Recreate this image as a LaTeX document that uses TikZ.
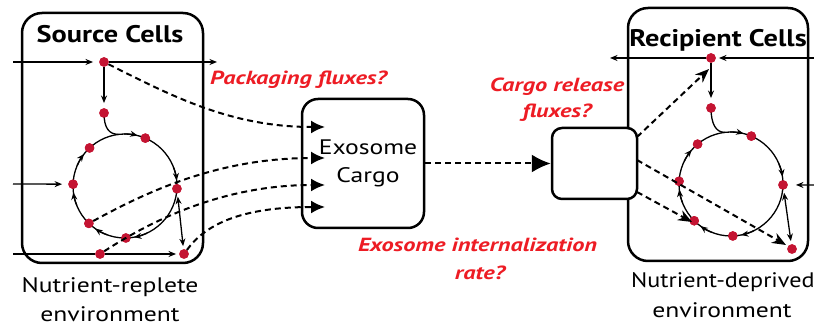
\documentclass[tikz,border=0pt]{standalone}
\usepackage{fontspec}
\setmainfont[FakeStretch=1.22]{PT Sans}
\newfontfamily\titlefont[FakeStretch=1.18]{PT Sans}
\newfontfamily\labfont[FakeStretch=1.28]{PT Sans}
\newfontfamily\ndfont[FakeStretch=1.15]{PT Sans}
\usetikzlibrary{arrows.meta,calc}
\definecolor{dotred}{RGB}{196,20,50}
\definecolor{labred}{RGB}{237,28,36}
\begin{document}
\begin{tikzpicture}[x=1pt,y=1pt,
  cellbox/.style={draw, line width=2.5pt, rounded corners=20pt},
  dot/.style={circle, fill=dotred, inner sep=0pt, minimum size=9.5pt},
  thinline/.style={line width=1.3pt},
  flow/.style={line width=1.3pt, -{Stealth[length=7.5pt,width=6pt]}},
  dflow/.style={line width=1.3pt, {Stealth[length=7.5pt,width=6pt]}-{Stealth[length=7.5pt,width=6pt]}},
  dashline/.style={line width=2pt, dash pattern=on 6pt off 4pt},
  bigtip/.style={-{Latex[length=14pt,width=13pt]}},
  smalltip/.style={-{Stealth[length=14pt,width=11pt,inset=4.5pt]}},
  title/.style={font=\titlefont\fontsize{24}{24}\selectfont\bfseries, anchor=base},
  lab/.style={text=labred, font=\labfont\fontsize{19}{19}\selectfont\bfseries\itshape, anchor=base},
  env/.style={font=\fontsize{21}{21}\selectfont, anchor=base},
]
\useasboundingbox (0,0) rectangle (814,-328);

% boxes
\draw[cellbox] (22,-13) rectangle (203,-263);
\draw[cellbox] (628,-8) rectangle (808,-261);
\node[draw, line width=2.5pt, rounded corners=16pt, minimum width=122pt, minimum height=129pt, inner sep=0pt] (exo) at (363,-163.5) {};
\node[draw, fill=white, line width=2.5pt, rounded corners=10pt, minimum width=85pt, minimum height=71pt, inner sep=0pt] (small) at (594.5,-163.5) {};

% centres and coordinates
\coordinate (S) at (125,-186);
\coordinate (R) at (731,-184);
\coordinate (sj) at ($(S)+(97:52)$);
\coordinate (rj) at ($(R)+(97:52)$);
\coordinate (sL1) at (13,-62);
\coordinate (sR1) at (217,-62);
\coordinate (sL2) at (13,-184);
\coordinate (sL3) at (13,-254);
\coordinate (rR1) at (814,-58);
\coordinate (rL1) at (610,-58);
\coordinate (rR2) at (814,-185);
\coordinate (e1) at (325,-127);
\coordinate (e2) at (325,-158);
\coordinate (e3) at (325,-185);
\coordinate (e4) at (325,-207);
\coordinate (sm1) at (637,-137);
\coordinate (sm2) at (637,-160);
\coordinate (sm3) at (637,-192);
\coordinate (t1) at (709,-69);
\coordinate (t2) at (786,-245);
\coordinate (t3) at (692,-222);

% dots (source)
\node[dot] (sA) at (104,-62) {};
\node[dot] (sB) at (104,-113) {};
\node[dot] (c1) at ($(S)+(67:52)$) {};
\node[dot] (c2) at ($(S)+(-3:52)$) {};
\node[dot] (c3) at ($(S)+(-89:52)$) {};
\node[dot] (c4) at ($(S)+(-134:52)$) {};
\node[dot] (c5) at ($(S)+(178:52)$) {};
\node[dot] (c6) at ($(S)+(133:52)$) {};
\node[dot] (sC) at (100,-254) {};
\node[dot] (sD) at (184,-254) {};
% dots (recipient)
\node[dot] (rA) at (711,-58) {};
\node[dot] (rB) at (711,-108) {};
\node[dot] (d1) at ($(R)+(67:52)$) {};
\node[dot] (d2) at ($(R)+(-1:52)$) {};
\node[dot] (d3) at ($(R)+(-88:52)$) {};
\node[dot] (d4) at ($(R)+(-135:52)$) {};
\node[dot] (d5) at ($(R)+(177:52)$) {};
\node[dot] (d6) at ($(R)+(130:52)$) {};
\node[dot] (rD) at (792,-249) {};

% source flows
\draw[thinline] (S) circle[radius=52];
\foreach \a in {67,-3,-89,-134,-182,-227}{
  \draw[flow] ($(S)+(\a+24:52)$) arc[start angle=\a+24, end angle=\a+9, radius=52];
}
\draw[thinline] (sB.center) .. controls (104,-128) and (109,-134.4) .. (sj);
\draw[flow, shorten >=6pt] (sL1) -- (sA);
\draw[flow] (sA) -- (sR1);
\draw[flow, shorten >=5pt] (sA) -- (sB);
\draw[flow, shorten >=6pt] (sL2) -- (c5);
\draw[thinline] (sL3) -- (sC);
\draw[flow, shorten >=3pt] (sC) -- (sD);
\draw[dflow, shorten <=3pt, shorten >=3pt] (c2) -- (sD);

% recipient flows
\draw[thinline] (R) circle[radius=52];
\foreach \a in {67,-1,-88,-135,-183,-230}{
  \draw[flow] ($(R)+(\a+24:52)$) arc[start angle=\a+24, end angle=\a+9, radius=52];
}
\draw[thinline] (rB.center) .. controls (711,-124) and (716,-132.4) .. (rj);
\draw[flow, shorten >=3pt] (rR1) -- (rA);
\draw[flow] (rA) -- (rL1);
\draw[flow, shorten >=5pt] (rA) -- (rB);
\draw[flow, shorten >=8pt] (rR2) -- (d2);
\draw[dflow, shorten <=3pt, shorten >=3pt] (d2) -- (rD);

% redraw dots on top
\foreach \n in {sA,sB,c1,c2,c3,c4,c5,c6,sC,sD,rA,rB,d1,d2,d3,d4,d5,d6,rD}{
  \fill[dotred] (\n.center) circle[radius=4.75pt];
}

% dashed packaging
\draw[dashline, bigtip] (sA) .. controls (170,-95) and (230,-127) .. (e1);
\draw[dashline, bigtip] (c4) .. controls (150,-190) and (220,-158) .. (e2);
\draw[dashline, bigtip] (sC) .. controls (160,-215) and (230,-185) .. (e3);
\draw[dashline, bigtip] (sD) .. controls (205,-225) and (240,-207) .. (e4);
\draw[dashline, -{Latex[length=19pt,width=18pt]}] (exo.east) -- (small.west);
\draw[dashline, smalltip] (sm1) -- (t1);
\draw[dashline, smalltip] (sm2) -- (t2);
\draw[dashline, smalltip] (sm3) -- (t3);

% texts
\node[title] (srcT) at (110,-43) {Source Cells};
\node[title] (recT) at (718,-47) {Recipient Cells};
\node[env] (exoT1) at (368,-155) {Exosome};
\node[env] (exoT2) at (368,-183) {Cargo};
\node[env] (nr1) at (110,-293) {Nutrient-replete};
\node[env] (nr2) at (110,-322) {environment};
\node[env, anchor=base west, font=\ndfont\fontsize{21}{21}\selectfont, inner xsep=0pt] (nd1) at (631,-288) {Nutrient-deprived};
\node[env] (nd2) at (722,-318) {environment};
\node[lab] (l1) at (298.5,-85) {Packaging fluxes?};
\node[lab] (l2) at (557,-92) {Cargo release};
\node[lab] (l3) at (557,-118) {fluxes?};
\node[lab] (l4) at (477.5,-252) {Exosome internalization};
\node[lab] (l5) at (480,-280) {rate?};
\end{tikzpicture}
\end{document}
